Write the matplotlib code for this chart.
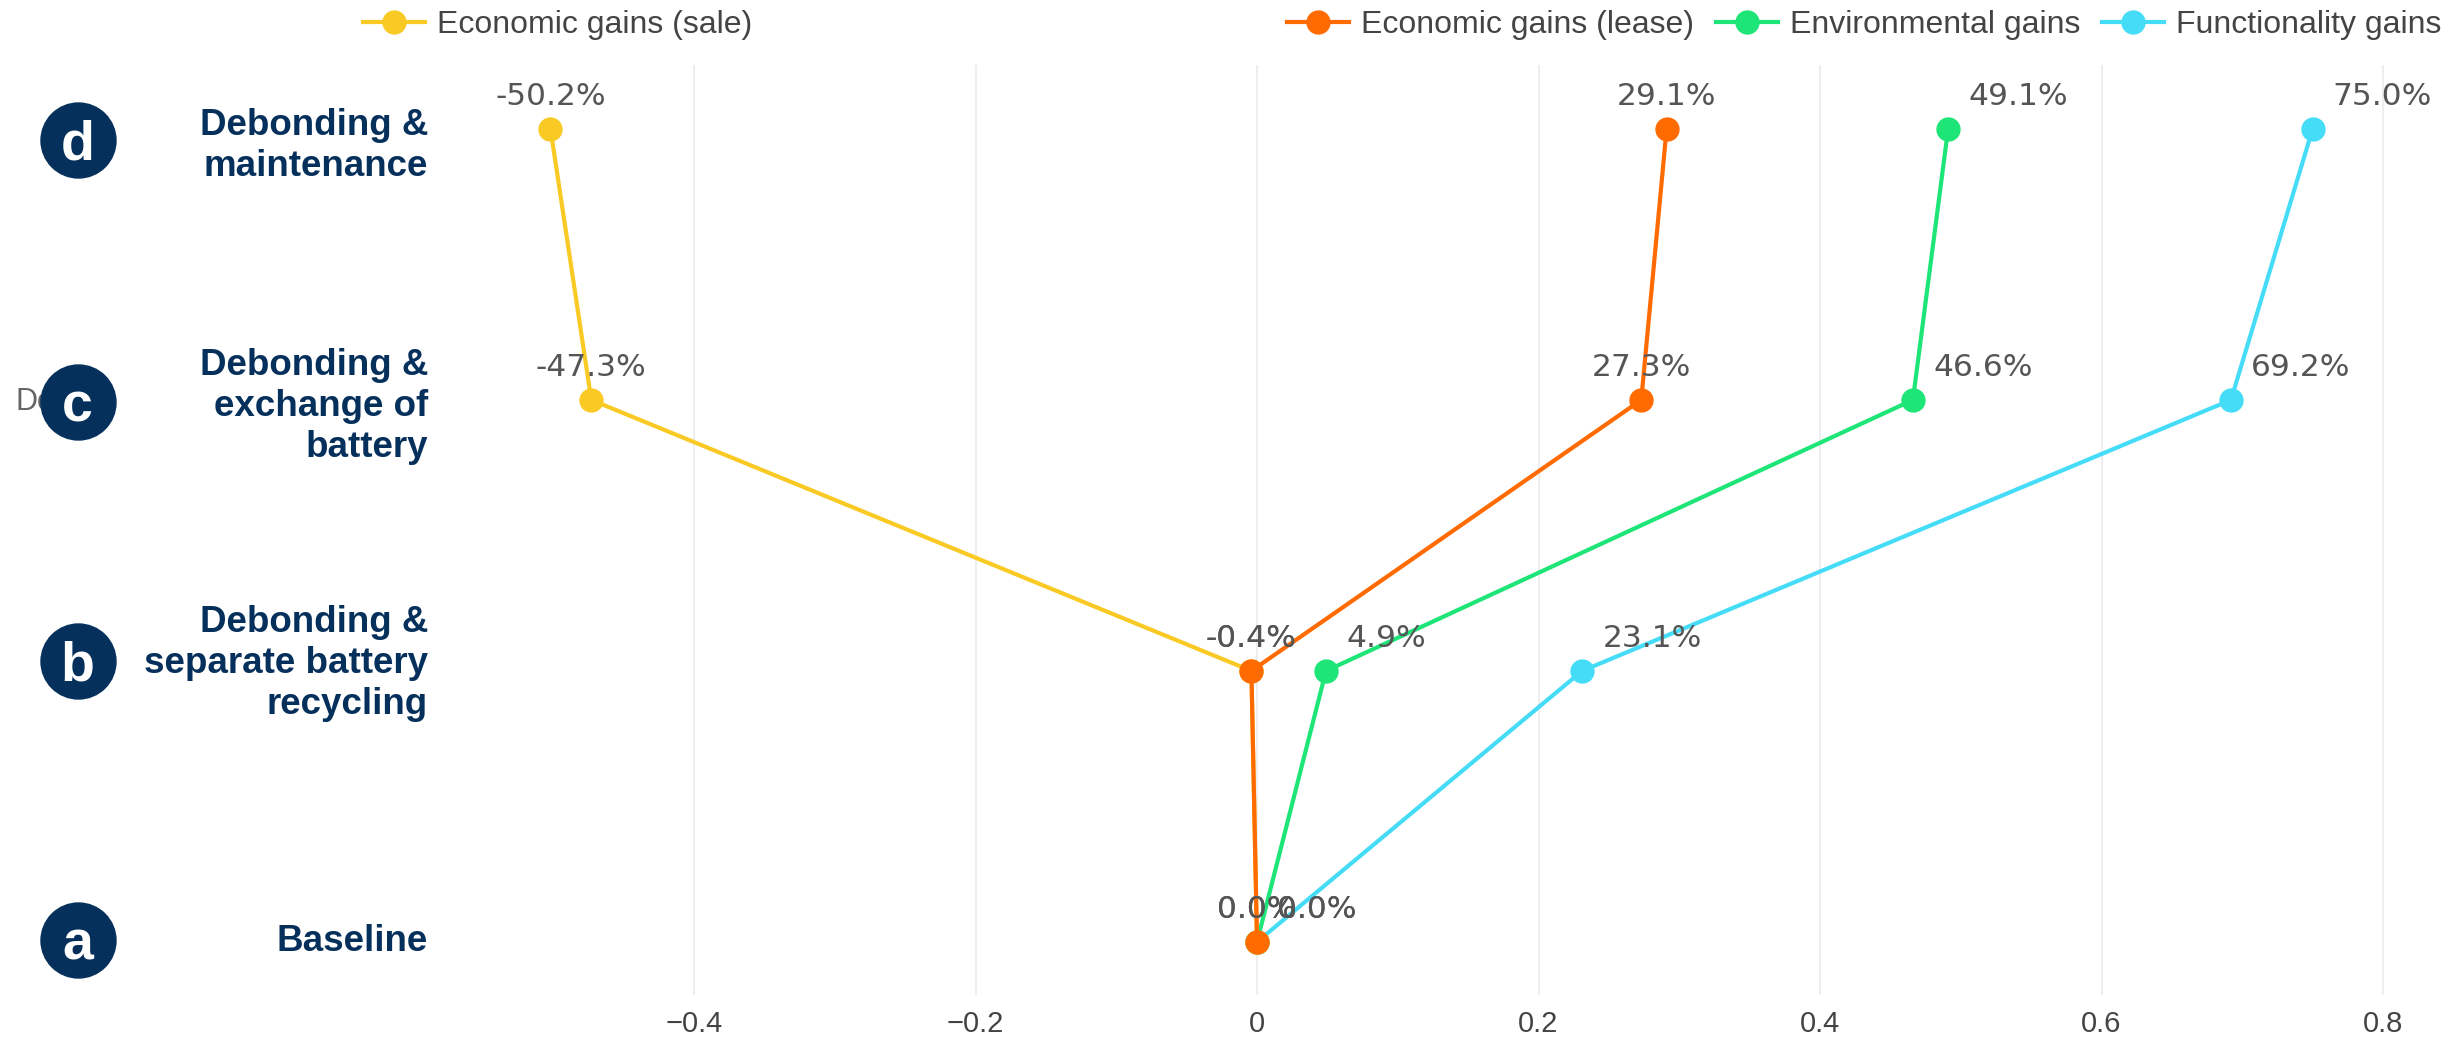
import matplotlib
matplotlib.use("Agg")
import matplotlib.pyplot as plt
from matplotlib.lines import Line2D
from matplotlib.transforms import blended_transform_factory, ScaledTranslation

# ---- data -------------------------------------------------------------
stages = ["Baseline",
          "Debonding &\nseparate battery\nrecycling",
          "Debonding &\nexchange of\nbattery",
          "Debonding &\nmaintenance"]
badges = ["a", "b", "c", "d"]

series_names = ["Economic gains (sale)", "Economic gains (lease)",
                "Environmental gains", "Functionality gains"]
sale = [0.0, -0.004, -0.473, -0.502]
lease = [0.0, -0.004, 0.273, 0.291]
environmental = [0.0, 0.049, 0.466, 0.491]
functionality = [0.0, 0.231, 0.692, 0.750]

x_ticks = [-0.4, -0.2, 0.0, 0.2, 0.4, 0.6, 0.8]
x_tick_labels = ["\u22120.4", "\u22120.2", "0", "0.2", "0.4", "0.6", "0.8"]

# ---- style ------------------------------------------------------------
colors = ["#f9ca24", "#ff6b00", "#1de577", "#45dcf7"]
zorders = [4, 5, 3, 2]
label_align = ["center", "center", "left", "left"]
navy = "#06305c"
W, H, DPI = 2461, 1040, 100

fig = plt.figure(figsize=(W / DPI, H / DPI), dpi=DPI)
ax = fig.add_axes([440 / W, 1 - 995 / H, 2000 / W, 930 / H])

ypos = list(range(len(stages)))
all_series = [sale, lease, environmental, functionality]

for vals, col, z, al in zip(all_series, colors, zorders, label_align):
    ax.plot(vals, ypos, color=col, lw=3.0, marker="o", ms=16.5,
            zorder=z, clip_on=False)
    for v, y in zip(vals, ypos):
        dx = 0 if al == "center" else 14.5
        ax.annotate(f"{v * 100:.1f}%", (v, y), xytext=(dx, 17.3),
                    textcoords="offset points", ha=al, va="baseline",
                    fontsize=22.5, color="#555555",
                    family="DejaVu Sans", zorder=6)

ax.set_xlim(-0.5805, 0.8405)
ax.set_ylim(-0.196, 3.236)
ax.set_xticks(x_ticks)
ax.set_xticklabels(x_tick_labels, fontsize=21, color="#444444",
                   family="Liberation Sans")
ax.set_yticks([])
ax.tick_params(axis="x", length=0, pad=11)
ax.grid(axis="x", color="#ebebeb", lw=1.2, zorder=0)
ax.set_axisbelow(True)
for s in ax.spines.values():
    s.set_visible(False)

# ---- stage labels and lettered badges on the left ----------------------
blend = blended_transform_factory(fig.transFigure, ax.transData)
label_dy = [0, -7, 7, 17]     # vertical nudge in pixels (down positive)
badge_dy = [-2, -10, 2, 11]
for y, text, letter, ldy, bdy in zip(ypos, stages, badges, label_dy, badge_dy):
    tl = blend + ScaledTranslation(0, -ldy / DPI, fig.dpi_scale_trans)
    ax.text(428 / W, y, text, transform=tl, ha="right", va="center",
            multialignment="right", fontsize=26.5, fontweight="bold",
            color=navy, family="Liberation Sans", linespacing=1.22,
            clip_on=False)
    tb = blend + ScaledTranslation(0, -bdy / DPI, fig.dpi_scale_trans)
    ax.plot([77.5 / W], [y], transform=tb, marker="o", ms=54,
            color=navy, mec=navy, clip_on=False, zorder=10)
    ax.text(77.5 / W, y, letter, transform=tb, ha="center", va="center_baseline",
            fontsize=40, fontweight="bold", color="white",
            family="Liberation Sans", clip_on=False, zorder=11)

# stray y-axis label fragment peeking out behind badge c
ax.text(15 / W, ypos[2], "De", transform=blend + ScaledTranslation(
    0, -2 / DPI, fig.dpi_scale_trans), ha="left", va="center",
    fontsize=22, color="#666666", family="Liberation Sans",
    clip_on=False, zorder=1)

# ---- legends -----------------------------------------------------------
handles = [Line2D([0], [0], color=c, lw=3.0, marker="o", ms=16.5)
           for c in colors]
leg_kw = dict(frameon=False, handlelength=1.95,
              handletextpad=0.37, borderpad=0, borderaxespad=0,
              labelcolor="#444444", prop={"family": "Liberation Sans",
                                          "size": 23})
leg1 = fig.legend(handles[:1], series_names[:1], loc="center left",
                  bbox_to_anchor=(363 / W, 1 - 25 / H), **leg_kw)
leg2 = fig.legend(handles[1:], series_names[1:], loc="center left",
                  bbox_to_anchor=(1287 / W, 1 - 25 / H), ncol=3,
                  columnspacing=0.68, **leg_kw)

fig.savefig("out.png", dpi=DPI, facecolor="white")
